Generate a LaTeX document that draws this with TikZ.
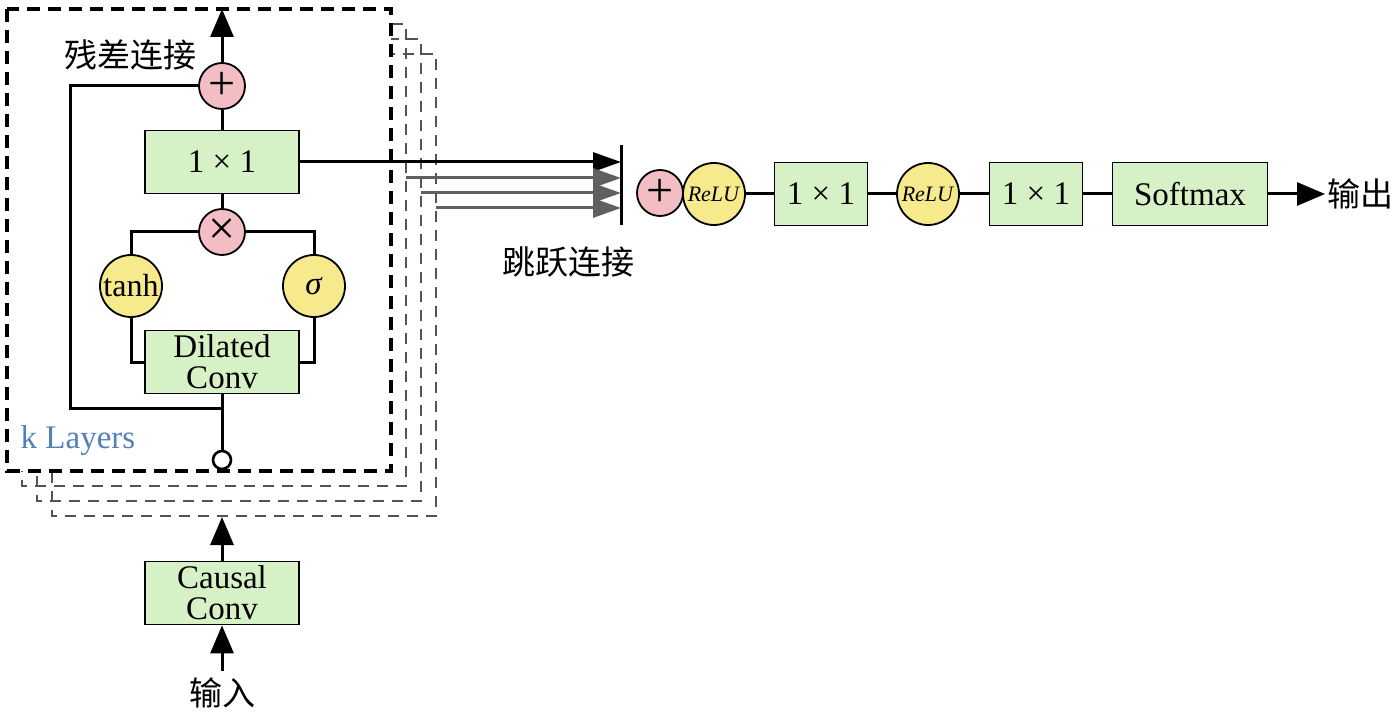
\documentclass[tikz,border=0pt]{standalone}
\usepackage{fontspec}
\setmainfont{Liberation Serif}
\newfontfamily\cjk{Noto Sans CJK SC}
\usepackage{tikz}
\usetikzlibrary{arrows.meta}
\definecolor{boxgreen}{RGB}{214,241,198}
\definecolor{oppink}{RGB}{242,190,196}
\definecolor{actyellow}{RGB}{246,234,140}
\definecolor{layerblue}{RGB}{84,128,184}

\begin{document}
\begin{tikzpicture}[x=0.5pt, y=-0.5pt,
	convbox/.style={draw, line width=0.9pt, fill=boxgreen, minimum width=77pt, minimum height=31.5pt, inner sep=0pt, align=center, font=\fontsize{16.5}{15.5}\selectfont},
	opcirc/.style={draw, line width=0.9pt, circle, fill=oppink, minimum size=23pt, inner sep=0pt, font=\fontsize{24}{24}\selectfont},
	actcirc/.style={draw, line width=0.9pt, circle, fill=actyellow, minimum size=31pt, inner sep=0pt},
	wire/.style={line width=1.5pt},
	flow/.style={line width=1.5pt, -{Triangle[length=14pt, width=11.5pt]}},
	skipflow/.style={line width=1.5pt, -{Triangle[length=14pt, width=9.5pt]}},
	backlayer/.style={gray!65!black, line width=1.2pt, dash pattern=on 5.5pt off 4pt},
	frontlayer/.style={black, line width=1.6pt, dash pattern=on 6.5pt off 4pt, fill=white},
	cjktext/.style={font=\cjk\fontsize{16.5}{16.5}\selectfont}]
	\useasboundingbox (0,0) rectangle (1395,716);

	% stacked layers
	\foreach \dx in {45,30,15}
		\draw[backlayer] (7+\dx,9+\dx) rectangle (391+\dx,471+\dx);
	\draw[frontlayer] (7,9) rectangle (391,471);

	% one residual layer
	\node[opcirc] (resadd) at (222,86) {+};
	\node[convbox] (outconv) at (222,162) {1 × 1};
	\node[opcirc] (gate) at (222,232) {×};
	\node[actcirc, font=\fontsize{16}{16}\selectfont] (tanh) at (131,286) {tanh};
	\node[actcirc, font=\fontsize{16.5}{16.5}\selectfont] (sigm) at (314,286) {\textit{σ}};
	\node[convbox] (dilconv) at (222,362) {Dilated\\Conv};
	\node[draw, circle, line width=1.3pt, fill=white, minimum size=9pt, inner sep=0pt] (tap) at (222,460) {};
	\coordinate (restop) at (222,9);
	\coordinate (resleft) at (70,408);

	\node[cjktext] (reslabel) at (130,55) {残差连接};
	\node[text=layerblue, font=\fontsize{16.5}{16.5}\selectfont] (klabel) at (78,441) {k Layers};

	\draw[flow] (resadd.north) -- (restop);
	\draw[wire] (outconv.north) -- (resadd.south);
	\draw[wire] (gate.north) -- (outconv.south);
	\draw[wire] (tanh.north) |- (gate.west);
	\draw[wire] (sigm.north) |- (gate.east);
	\draw[wire] (tanh.south) |- (dilconv.west);
	\draw[wire] (sigm.south) |- (dilconv.east);
	\draw[wire] (tap.north) -- (dilconv.south);
	\draw[wire] (resadd.west) -| (resleft) -- (resleft -| tap);

	% input
	\node[convbox] (causal) at (222,593) {Causal\\Conv};
	\node[cjktext] (inlabel) at (222,693) {输入};
	\coordinate (stackbot) at (222,517);
	\draw[flow] (inlabel.north) -- (causal.south);
	\draw[flow] (causal.north) -- (stackbot);

	% skip connections
	\coordinate (bartop) at (621,145);
	\coordinate (barbot) at (621,225);
	\draw[wire] (bartop) -- (barbot);
	\draw[skipflow] (outconv.east) -- (outconv.east -| bartop);
	\foreach \dx in {15,30,45} {
		\coordinate (skip\dx) at (391+\dx,163+\dx);
		\draw[skipflow, gray!75!black] (skip\dx) -- (skip\dx -| bartop);
	}
	\node[cjktext] (skiplabel) at (568,262) {跳跃连接};

	% output stage
	\node[actcirc, font=\fontsize{11}{11}\selectfont] (relu1) at (714,194) {\textit{ReLU}};
	\node[opcirc] (skipadd) at (660,193) {+};
	\node[convbox, minimum width=46.5pt] (head1) at (821,194) {1 × 1};
	\node[actcirc, font=\fontsize{11}{11}\selectfont] (relu2) at (928,194) {\textit{ReLU}};
	\node[convbox, minimum width=46.5pt] (head2) at (1036,194) {1 × 1};
	\node[convbox, minimum width=77.5pt] (softmax) at (1190,194) {Softmax};
	\node[cjktext, anchor=west, inner sep=1pt] (outlabel) at (1325,194) {输出};

	\draw[wire] (relu1.east) -- (head1.west);
	\draw[wire] (head1.east) -- (relu2.west);
	\draw[wire] (relu2.east) -- (head2.west);
	\draw[wire] (head2.east) -- (softmax.west);
	\draw[flow] (softmax.east) -- (outlabel.west);

\end{tikzpicture}
\end{document}
